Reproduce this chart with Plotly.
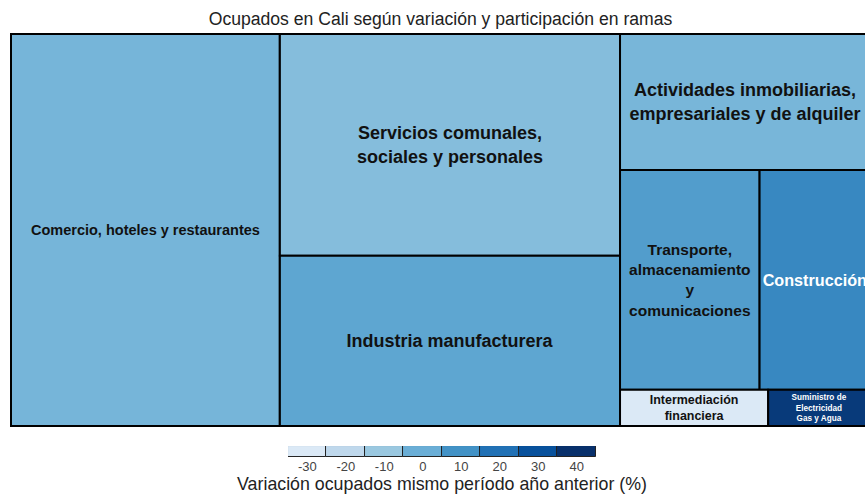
import plotly.graph_objects as go

# ---------------- data ----------------
ramas = [
    "Comercio, hoteles y restaurantes",
    "Servicios comunales, sociales y personales",
    "Industria manufacturera",
    "Actividades inmobiliarias, empresariales y de alquiler",
    "Transporte, almacenamiento y comunicaciones",
    "Construcción",
    "Intermediación financiera",
    "Suministro de Electricidad Gas y Agua",
]
etiquetas = [
    "Comercio, hoteles y restaurantes",
    "Servicios comunales,<br>sociales y personales",
    "Industria manufacturera",
    "Actividades inmobiliarias,<br>empresariales y de alquiler",
    "Transporte,<br>almacenamiento<br>y<br>comunicaciones",
    "Construcción",
    "Intermediación<br>financiera",
    "Suministro de<br>Electricidad<br>Gas y Agua",
]
participacion = [31.3, 22.4, 17.2, 10.1, 9.1, 7.2, 1.6, 1.1]
variacion = [-2.5, -5.6, 3.0, -3.0, 6.0, 13.0, -32.0, 37.0]
# layout grouping of the tiles (column / row blocks)
grupo = ["Total", "B", "B", "C", "C2", "C2", "C3", "C3"]

legend_vals = [-30, -20, -10, 0, 10, 20, 30, 40]
legend_text = ["-30", "-20", "-10", "0", "10", "20", "30", "40"]
legend_colors = ["#dbe9f6", "#bfd8ec", "#9ac8e0", "#6aaed6",
                 "#4292c6", "#2171b5", "#08519c", "#08306b"]

title_text = "Ocupados en Cali según variación y participación en ramas"
legend_title = "Variación ocupados mismo período año anterior (%)"

# ---------------- build hierarchy ----------------
group_parent = {"Total": "", "B": "Total", "C": "Total", "C2": "C", "C3": "C"}
ids, parents, values, colors, texts, tsize, tcolor = [], [], [], [], [], [], []
size_map = [14.5, 18, 18, 18, 15.5, 16.5, 15, 10]
color_map = ["#111", "#111", "#111", "#111", "#111", "white", "#111", "white"]

added = set()
def add_group(g):
    if g in added:
        return
    p = group_parent[g]
    if p:
        add_group(p)
    added.add(g)
    ids.append(g); parents.append(p); values.append(0); colors.append(0)
    texts.append(""); tsize.append(10); tcolor.append("#111")

for i, r in enumerate(ramas):
    add_group(grupo[i])
    ids.append(r); parents.append(grupo[i]); values.append(participacion[i])
    colors.append(variacion[i]); texts.append(etiquetas[i])
    tsize.append(size_map[i]); tcolor.append(color_map[i])

n = len(legend_colors)
cscale = [[k / (n - 1), c] for k, c in enumerate(legend_colors)]

fig = go.Figure()
fig.add_trace(go.Treemap(
    ids=ids, labels=ids, parents=parents, values=values,
    branchvalues="remainder", sort=False,
    text=texts, textinfo="text", textposition="middle center",
    textfont=dict(family="Liberation Sans, Arial", size=tsize, color=tcolor, weight="bold"),
    marker=dict(colors=colors, colorscale=cscale, cmin=min(legend_vals), cmax=max(legend_vals),
                showscale=False, depthfade=False,
                line=dict(color="black", width=2),
                pad=dict(t=0, l=0, r=0, b=0)),
    tiling=dict(packing="slice-dice", pad=0),
    pathbar=dict(visible=False),
    domain=dict(x=[0, 1], y=[0.1441, 1]),
    hoverinfo="skip",
))

fig.add_trace(go.Bar(
    x=legend_vals, y=[1] * n, width=10,
    marker=dict(color=legend_colors, line=dict(color="#222", width=1)),
    xaxis="x2", yaxis="y2", showlegend=False, hoverinfo="skip",
))

fig.update_layout(
    width=870, height=494,
    margin=dict(l=11, r=0, t=34, b=2),
    paper_bgcolor="white", plot_bgcolor="white",
    font=dict(family="Liberation Sans, Arial", color="#222"),
    title=dict(text=title_text, x=0.5, xref="paper", xanchor="center",
               y=1 - 19 / 494, yref="container", yanchor="middle",
               font=dict(size=17.6, color="#222")),
    xaxis2=dict(domain=[0.3225, 0.681], anchor="y2", range=[-35, 45],
                tickvals=legend_vals, ticktext=legend_text, ticks="",
                showgrid=False, zeroline=False, showline=False,
                tickfont=dict(size=13, color="#444"),
                title=dict(text=legend_title, font=dict(size=17.8, color="#222"), standoff=2)),
    yaxis2=dict(domain=[0.0764, 0.1004], anchor="x2", range=[0, 1], visible=False),
    showlegend=False,
    bargap=0,
)

fig.write_html(
    "out.html",
    config={"displayModeBar": False},
    post_script=("document.body.style.margin='0';"
                 "document.body.style.overflow='hidden';"
                 "document.documentElement.style.overflow='hidden';"),
)
